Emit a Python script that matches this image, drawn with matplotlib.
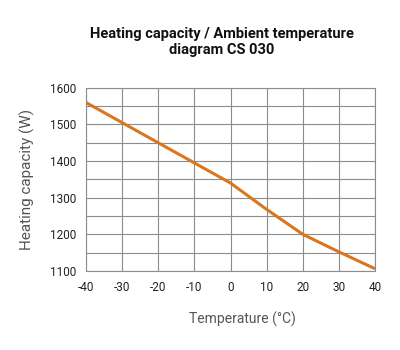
import numpy as np
import matplotlib.pyplot as plt

temps = [-40, -30, -20, -10, 0, 10, 20, 30, 40]
power = [1560, 1505, 1450, 1395, 1340, 1268, 1200, 1152, 1106]
xticks = [-40, -30, -20, -10, 0, 10, 20, 30, 40]
yticks = [1100, 1200, 1300, 1400, 1500, 1600]

plt.rcParams['font.family'] = ['Roboto', 'DejaVu Sans']
plt.rcParams['axes.unicode_minus'] = False

fig = plt.figure(figsize=(4, 3.5), dpi=100)
ax = fig.add_axes([0.215, 0.226, 0.7225, 0.523])

ax.plot(temps, power, color='#d9761e', lw=2.2, solid_capstyle='butt')

ax.set_xlim(-40, 40)
ax.set_ylim(1100, 1600)
ax.set_xticks(xticks)
ax.set_yticks(yticks)
ax.set_yticks(np.arange(1150, 1600, 100), minor=True)
ax.grid(True, which='both', color='#8c8c8c', lw=0.8)
ax.set_axisbelow(True)
for s in ax.spines.values():
    s.set_color('#8c8c8c')
    s.set_linewidth(0.8)
ax.tick_params(which='both', length=0, colors='#222222', labelsize=8.5, pad=7)

ax.set_xlabel('Temperature (°C)', fontsize=10, color='#555555')
ax.xaxis.set_label_coords(0.54, -0.225)
ax.set_ylabel('Heating capacity (W)', fontsize=11, color='#555555', labelpad=11)

fig.text(0.554, 0.88, 'Heating capacity / Ambient temperature\ndiagram CS 030',
         ha='center', va='center', fontsize=10.5, fontweight='bold', color='#111111',
         linespacing=1.15)

fig.savefig('out.png', dpi=100, facecolor='white')
